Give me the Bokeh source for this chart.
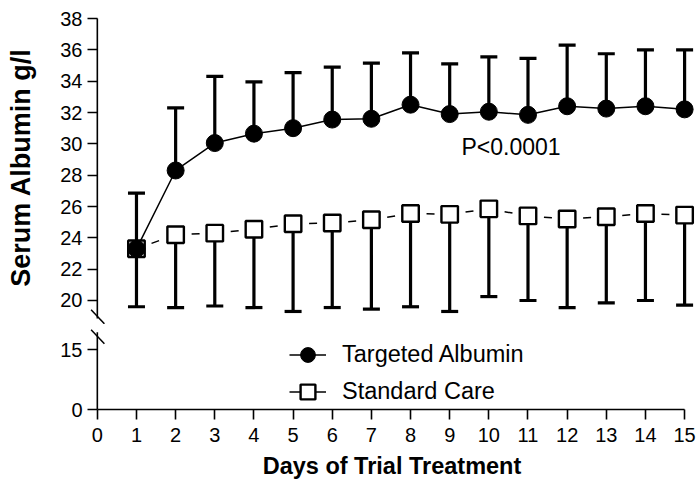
from bokeh.plotting import figure
from bokeh.layouts import column
from bokeh.models import Legend, LegendItem, Label, Arrow, FixedTicker, Range1d
from bokeh.embed import file_html
from bokeh.resources import INLINE

# ---------------- data ----------------
days = list(range(1, 16))
targeted_mean = [23.3, 28.3, 30.05, 30.65, 31.0, 31.55, 31.6, 32.5, 31.9, 32.05, 31.85, 32.4, 32.25, 32.4, 32.2]
targeted_sd = [3.55, 4.0, 4.25, 3.3, 3.55, 3.35, 3.55, 3.3, 3.2, 3.5, 3.6, 3.9, 3.5, 3.6, 3.8]
standard_mean = [23.3, 24.2, 24.3, 24.55, 24.9, 24.95, 25.15, 25.55, 25.5, 25.85, 25.4, 25.2, 25.35, 25.55, 25.45]
standard_sd = [3.7, 4.65, 4.65, 5.0, 5.6, 5.4, 5.7, 5.95, 6.2, 5.6, 5.4, 5.65, 5.5, 5.55, 5.75]
x_ticks = list(range(0, 16))
upper_y_ticks = list(range(20, 39, 2))
lower_y_ticks = [0, 15]
series_names = ["Targeted Albumin", "Standard Care"]
p_text = "P<0.0001"
x_title = "Days of Trial Treatment"
y_title = "Serum Albumin g/l"

FONT = "Liberation Sans"
TICK_FS = "20px"

t_upper = [m + s for m, s in zip(targeted_mean, targeted_sd)]
s_lower = [m - s for m, s in zip(standard_mean, standard_sd)]

X_START = -0.2
X_END = 15.253
FRAME_W = 605
LEFT = 89
UPPER_AXIS = (18.85, 38)
LOWER_AXIS = (0, 19.3)


def style_axis(ax, title_fs):
    ax.axis_line_width = 1.6
    ax.major_tick_line_width = 1.6
    ax.major_tick_out = 10
    ax.major_tick_in = 0
    ax.minor_tick_line_color = None
    ax.major_label_text_font = FONT
    ax.major_label_text_font_size = TICK_FS
    ax.major_label_text_color = "black"
    ax.axis_label_text_font = FONT
    ax.axis_label_text_font_size = title_fs
    ax.axis_label_text_font_style = "bold"
    ax.axis_label_text_color = "black"


def style_yaxis(fig, ticks, bounds, title_fs):
    ax = fig.yaxis[0]
    style_axis(ax, title_fs)
    ax.ticker = FixedTicker(ticks=ticks)
    # the frame starts a little left of x=0 so the break marks are not clipped;
    # the visible axis line sits at x=0 and the ticks reach it from the frame edge
    ax.axis_line_color = None
    ax.major_tick_out = 2
    ax.major_tick_in = 8
    ax.major_label_standoff = 5
    fig.segment(x0=[0], y0=[bounds[0]], x1=[0], y1=[bounds[1]], line_color="black",
                line_width=1.6)


def add_series(fig, standard_dash):
    if standard_dash:
        seg_xs = [[days[i], days[i + 1]] for i in range(len(days) - 1)]
        seg_ys = [[standard_mean[i], standard_mean[i + 1]] for i in range(len(days) - 1)]
        l_std = fig.multi_line(seg_xs, seg_ys, line_color="black", line_width=1.5,
                               line_dash="0 16 8 100")
    else:
        l_std = fig.line(days, standard_mean, line_color="black", line_width=1.5)
    l_tar = fig.line(days, targeted_mean, line_color="black", line_width=1.5)
    m_std = fig.scatter(days, standard_mean, marker="square", size=16.5, fill_color="white",
                        line_color="black", line_width=2.4)
    m_tar = fig.scatter(days, targeted_mean, marker="circle", size=17, fill_color="black",
                        line_color="black", line_width=1)
    return l_tar, m_tar, l_std, m_std


# ---------------- upper panel of the broken axis ----------------
up_start = 18.468
up_end = 38.511
top = figure(frame_width=FRAME_W, frame_height=314, output_backend="svg",
             toolbar_location=None, x_range=Range1d(X_START, X_END),
             y_range=Range1d(up_start, up_end), x_axis_location=None,
             min_border_left=LEFT, min_border_right=3, min_border_top=10,
             min_border_bottom=0)
top.outline_line_color = None
top.xgrid.visible = False
top.ygrid.visible = False
style_yaxis(top, upper_y_ticks, UPPER_AXIS, "27px")
top.yaxis.axis_label = y_title
top.yaxis.axis_label_standoff = 21

# error bars
top.segment(x0=days, y0=targeted_mean, x1=days, y1=t_upper, line_color="black", line_width=3.2)
top.scatter(days, t_upper, marker="dash", size=17, line_color="black", line_width=3.2)
top.segment(x0=days, y0=standard_mean, x1=days, y1=s_lower, line_color="black", line_width=3.2)
top.scatter(days, s_lower, marker="dash", size=17, line_color="black", line_width=3.2)
add_series(top, True)

top.add_layout(Label(x=9.3, y=29.8, text=p_text, text_font=FONT, text_font_size="23px",
                     text_baseline="middle", text_align="left", text_color="black"))

# axis-break mark
top.add_layout(Arrow(end=None, x_start=1.6, y_start=14.7, x_end=14.9, y_end=0.7,
                     start_units="screen", end_units="screen", line_color="black",
                     line_width=1.5))

# ---------------- lower panel of the broken axis ----------------
bot = figure(frame_width=FRAME_W, frame_height=81, output_backend="svg",
             toolbar_location=None, x_range=Range1d(X_START, X_END),
             y_range=Range1d(0, 20.25),
             min_border_left=LEFT, min_border_right=3, min_border_top=4,
             min_border_bottom=0)
bot.outline_line_color = None
bot.xgrid.visible = False
bot.ygrid.visible = False
style_yaxis(bot, lower_y_ticks, LOWER_AXIS, "23px")
style_axis(bot.xaxis[0], "23.5px")
bot.xaxis.ticker = FixedTicker(ticks=x_ticks)
bot.xaxis.bounds = (0, 15)
bot.xaxis.axis_label = x_title
bot.xaxis.major_label_standoff = 8
bot.xaxis.axis_label_standoff = 8

bot.add_layout(Arrow(end=None, x_start=1.6, y_start=79.7, x_end=14.9, y_end=65.7,
                     start_units="screen", end_units="screen", line_color="black",
                     line_width=1.5))

# same series in the lower segment (their values lie above its range)
l_tar, m_tar, l_std, m_std = add_series(bot, False)

legend = Legend(items=[LegendItem(label=series_names[0], renderers=[l_tar, m_tar]),
                       LegendItem(label=series_names[1], renderers=[l_std, m_std])],
                location=(200, -1), glyph_width=37, glyph_height=37, spacing=0,
                padding=0, margin=0, border_line_color=None,
                background_fill_alpha=0, label_standoff=16,
                label_text_font=FONT, label_text_font_size="23.5px",
                label_text_color="black")
bot.add_layout(legend)

layout = column(top, bot, spacing=0)
open("out.html", "w").write(file_html(layout, INLINE))
